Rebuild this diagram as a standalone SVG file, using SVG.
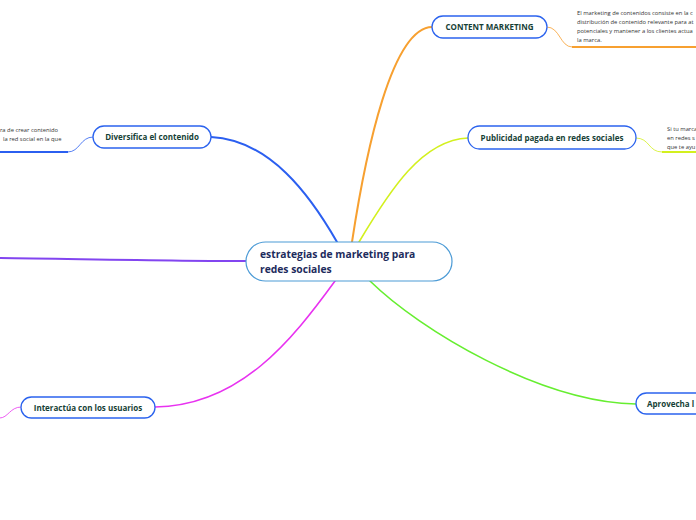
<svg xmlns="http://www.w3.org/2000/svg" width="696" height="520" viewBox="0 0 696 520">
<style>
.node rect{fill:#fff;stroke:#2b63ee;stroke-width:1.3}
.node text{font-family:"Open Sans","Noto Sans",sans-serif;font-weight:bold;font-size:8px;fill:#163f36;text-anchor:middle}
.central rect{fill:#fff;stroke:#4c9bd6;stroke-width:1.2}
.central text{font-family:"Open Sans","Noto Sans",sans-serif;font-weight:bold;font-size:10.3px;fill:#1d2b5c}
.note{font-family:"Open Sans","Noto Sans",sans-serif;font-size:5.8px;fill:#333}
.c{fill:none;stroke-linecap:round}
</style>
<rect width="696" height="520" fill="#fff"/>
<g id="connectors">
  <path class="c" d="M337,242 C310,195 270,140 211,137" stroke="#2b5ff0" stroke-width="2"/>
  <path class="c" d="M352,242 C366,150 392,28 432,27" stroke="#f7a030" stroke-width="2"/>
  <path class="c" d="M359,242 C390,190 422,140 468,138" stroke="#d3f01e" stroke-width="1.6"/>
  <path class="c" d="M335,281 C292,340 240,406 155,407" stroke="#e832f0" stroke-width="1.6"/>
  <path class="c" d="M370,281 C420,330 540,402 636,404" stroke="#66ee30" stroke-width="1.6"/>
  <path class="c" d="M0,258 C80,259 180,261 246,261" stroke="#8245f0" stroke-width="2"/>
  <path class="c" d="M547,27 C560,27 560,47 572,47" stroke="#f7a030" stroke-width="0.8"/>
  <path d="M572,47 L696,47" stroke="#f7a030" stroke-width="2.2"/>
  <path class="c" d="M93,137 C80,137 80,152 68,152" stroke="#2b5ff0" stroke-width="0.8"/>
  <path d="M0,152 L68,152" stroke="#2b5ff0" stroke-width="2.2"/>
  <path class="c" d="M636,138 C650,138 648,152 662,152" stroke="#d3f01e" stroke-width="0.8"/>
  <path d="M662,152 L696,152" stroke="#d3f01e" stroke-width="2.2"/>
  <path class="c" d="M21,407 C10,407 8,418 0,418" stroke="#e832f0" stroke-width="0.8"/>
</g>
<g id="central" class="central">
  <rect x="246" y="242" width="206" height="39" rx="19.5"/>
  <text x="260" y="258">estrategias de marketing para</text>
  <text x="260" y="273">redes sociales</text>
</g>
<g id="content-marketing" class="node">
  <rect x="432" y="16" width="115" height="22" rx="11"/>
  <text x="489.5" y="30">CONTENT MARKETING</text>
</g>
<g id="content-marketing-note">
  <text class="note" x="577" y="15">El marketing de contenidos consiste en la c</text>
  <text class="note" x="577" y="24">distribución de contenido relevante para at</text>
  <text class="note" x="577" y="33">potenciales y mantener a los clientes actua</text>
  <text class="note" x="577" y="42">la marca.</text>
</g>
<g id="diversifica" class="node">
  <rect x="93" y="126" width="118" height="22" rx="11"/>
  <text x="152" y="140">Diversifica el contenido</text>
</g>
<g id="diversifica-note">
  <text class="note" x="0" y="132">ra de crear contenido</text>
  <text class="note" x="3" y="141">la red social en la que</text>
</g>
<g id="publicidad" class="node">
  <rect x="468" y="126" width="168" height="23" rx="11.5"/>
  <text x="552" y="140.5">Publicidad pagada en redes sociales</text>
</g>
<g id="publicidad-note">
  <text class="note" x="667" y="131">Si tu marca</text>
  <text class="note" x="667" y="140">en redes s</text>
  <text class="note" x="667" y="149">que te ayu</text>
</g>
<g id="interactua" class="node">
  <rect x="21" y="397" width="134" height="21" rx="10.5"/>
  <text x="88" y="410.5">Interactúa con los usuarios</text>
</g>
<g id="aprovecha" class="node">
  <rect x="636" y="393" width="120" height="21" rx="10.5"/>
  <text x="647" y="406.5" style="text-anchor:start">Aprovecha l</text>
</g>
</svg>
